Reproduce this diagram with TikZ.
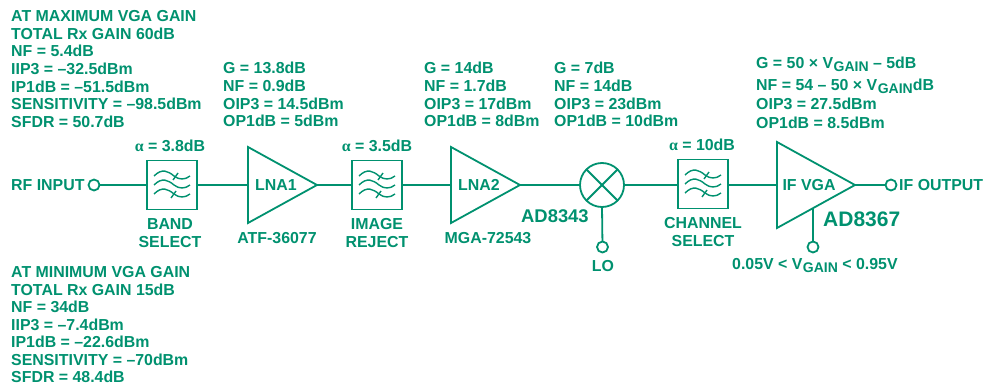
\documentclass[tikz,border=0pt]{standalone}
\usepackage{fontspec}
\setmainfont{Liberation Sans}[BoldFont=Liberation Sans Bold]
\newfontfamily\alphafont{Liberation Serif}[BoldFont=Liberation Serif Bold]
\usetikzlibrary{shapes.geometric}
\definecolor{adi}{HTML}{00916F}
\newcommand{\vgain}{V\kern0.5pt\raisebox{-3pt}{\fontsize{14}{14}\selectfont GAIN}}
\newcommand{\alf}{{\alphafont α}}
\newcommand{\wavesat}[1]{%
  \begin{scope}[shift={(#1.center)}]
  \foreach \dy in {0,9,18}{%
    \draw[wave] (-18,-9+\dy) .. controls (-10,-17+\dy) and (-4,-14+\dy) .. (2,-9+\dy)
      .. controls (7,-5+\dy) and (13,-5+\dy) .. (18,-9+\dy);
  }
  \draw[wave] (1,-5) -- (6,-12);
  \draw[wave] (-1,13) -- (4,6);
  \end{scope}
}
\tikzset{
  x=1pt,y=-1pt,
  wire/.style={draw=adi,line width=1.8pt},
  wave/.style={draw=adi,line width=1.4pt},
  filterbox/.style={draw=adi,line width=1.8pt,minimum width=50pt,minimum height=49pt,inner sep=0pt,outer sep=0pt},
  port/.style={circle,draw=adi,line width=1.8pt,minimum size=11pt,inner sep=0pt,outer sep=0pt},
  amp/.style={isosceles triangle,isosceles triangle stretches,draw=adi,line width=1.8pt,inner sep=0pt,outer sep=0pt,shape border rotate=0,anchor=lower side},
  mixer/.style={circle,draw=adi,line width=1.8pt,minimum size=44pt,inner sep=0pt,outer sep=0pt},
  txt/.style={text=adi,font=\fontsize{15.9}{17.7}\selectfont\bfseries,inner sep=0pt,align=left,anchor=north west},
  lbl/.style={text=adi,font=\fontsize{15.9}{17.7}\selectfont\bfseries,inner sep=0pt,align=center},
  big/.style={text=adi,font=\fontsize{18.4}{20}\selectfont\bfseries,inner sep=0pt},
  bigger/.style={text=adi,font=\fontsize{21}{24}\selectfont\bfseries,inner sep=0pt},
}
\begin{document}
\begin{tikzpicture}
\useasboundingbox (0,0) rectangle (984,385);
% blocks
\node[port] (rf) at (94,185) {};
\node[filterbox] (f1) at (172,185) {};
\node[amp,minimum height=69pt,minimum width=76pt] (a1) at (248,185) {};
\node[filterbox] (f2) at (377,185) {};
\node[amp,minimum height=69pt,minimum width=76pt] (a2) at (451,185) {};
\node[mixer] (mx) at (602,185) {};
\node[port] (lo) at (602.5,247) {};
\node[filterbox] (f3) at (703,184) {};
\node[amp,minimum height=78pt,minimum width=86pt] (a3) at (777,185) {};
\node[port] (out) at (891,185) {};
\node[port] (vg) at (813,247) {};
\coordinate (vgtop) at (813,208);
% connectors
\draw[wire] (rf) -- (f1.west);
\draw[wire] (f1.east) -- (a1.lower side);
\draw[wire] (a1.apex) -- (f2.west);
\draw[wire] (f2.east) -- (a2.lower side);
\draw[wire] (a2.apex) -- (mx.west);
\draw[wire] (mx.east) -- (f3.west |- mx.east);
\draw[wire] (f3.east |- mx.east) -- (a3.lower side);
\draw[wire] (a3.apex) -- (out);
\draw[wire] (mx.south) -- (lo);
\draw[wire] (vgtop) -- (vg);
\draw[wire] (mx.north west) -- (mx.south east);
\draw[wire] (mx.north east) -- (mx.south west);
\wavesat{f1}\wavesat{f2}\wavesat{f3}
% text blocks
\node[txt] (t1) at (11,10) {AT MAXIMUM VGA GAIN\\TOTAL Rx GAIN 60dB\\NF = 5.4dB\\IIP3 = –32.5dBm\\IP1dB = –51.5dBm\\SENSITIVITY = –98.5dBm\\SFDR = 50.7dB};
\node[txt,font=\fontsize{15.9}{17.5}\selectfont\bfseries] (t2) at (11,266.5) {AT MINIMUM VGA GAIN\\TOTAL Rx GAIN 15dB\\NF = 34dB\\IIP3 = –7.4dBm\\IP1dB = –22.6dBm\\SENSITIVITY = –70dBm\\SFDR = 48.4dB};
\node[txt] (t3) at (223,62) {G = 13.8dB\\NF = 0.9dB\\OIP3 = 14.5dBm\\OP1dB = 5dBm};
\node[txt] (t4) at (424,62) {G = 14dB\\NF = 1.7dB\\OIP3 = 17dBm\\OP1dB = 8dBm};
\node[txt] (t5) at (554,62) {G = 7dB\\NF = 14dB\\OIP3 = 23dBm\\OP1dB = 10dBm};
\node[txt,font=\fontsize{15.9}{21.5}\selectfont\bfseries] (t6) at (756,57) {G = 50 × \vgain{} – 5dB\\NF = 54 – 50 × \vgain{}dB\\[-2.5pt]OIP3 = 27.5dBm\\[-2.5pt]OP1dB = 8.5dBm};
\node[lbl] (al1) at (170,146) {\alf{} = 3.8dB};
\node[lbl] (al2) at (377,146) {\alf{} = 3.5dB};
\node[lbl] (al3) at (702,145) {\alf{} = 10dB};
\node[lbl,anchor=west] (rfl) at (11,185) {RF INPUT};
\node[lbl,anchor=west] (ifl) at (899,185) {IF OUTPUT};
\node[lbl] (bs) at (170,233) {BAND\\SELECT};
\node[lbl] (ir) at (377,233) {IMAGE\\REJECT};
\node[lbl] (cs) at (703,232) {CHANNEL\\SELECT};
\node[lbl] (l1) at (276,185) {LNA1};
\node[lbl] (l2) at (479,185) {LNA2};
\node[lbl] (l3) at (809,185) {IF VGA};
\node[lbl] (p1) at (277,238) {ATF-36077};
\node[lbl] (p2) at (488,238) {MGA-72543};
\node[big,anchor=west] (p3) at (521,216) {AD8343};
\node[bigger,anchor=west] (p4) at (823,219) {AD8367};
\node[lbl] (lot) at (603,266) {LO};
\node[lbl,anchor=west] (rng) at (732,266) {0.05V < \vgain{} < 0.95V};
\end{tikzpicture}
\end{document}
